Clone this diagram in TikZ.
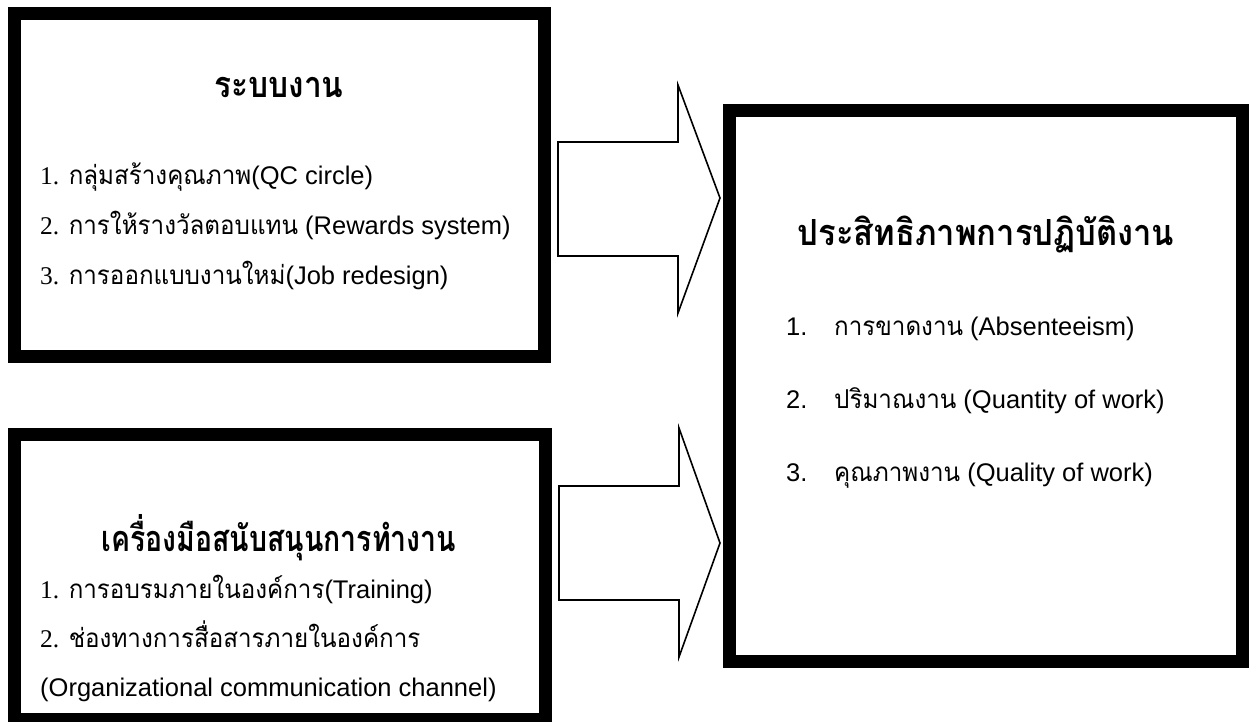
\documentclass[tikz,border=0pt]{standalone}
\usepackage{fontspec}
\setmainfont{Liberation Sans}
\newfontfamily\thai[Script=Thai,FakeStretch=0.93]{Loma}
\newfontfamily\thaiA[Script=Thai,FakeStretch=0.88]{Loma}
\newfontfamily\thaiB[Script=Thai,FakeStretch=0.79]{Loma}
\newfontfamily\thaiC[Script=Thai,FakeStretch=0.91]{Loma}
\newfontfamily\sernum{Liberation Serif}
\newcommand{\itemfont}{\fontsize{25.5}{30}\selectfont}
\newcommand{\thx}[1]{{\thai\fontsize{26}{30}\selectfont #1}}
\begin{document}
\begin{tikzpicture}[x=1pt,y=-1pt,
  box/.style={draw=black,line width=13pt,rectangle,inner sep=0pt,outer sep=0pt},
  blockarrow/.style={draw=black,line width=1.6pt,line join=miter,fill=white},
  title/.style={anchor=base,inner sep=0pt,font=\bfseries\fontsize{36}{40}\selectfont},
  line/.style={anchor=base west,inner sep=0pt,font=\itemfont}]
\useasboundingbox (0,0) rectangle (1252,721);
\clip (0,0) rectangle (1252,721);
% boxes
\node[box,minimum width=530pt,minimum height=343pt] (b1) at (279.5,185) {};
\node[box,minimum width=531pt,minimum height=285pt] (b2) at (280,577) {};
\node[box,minimum width=513pt,minimum height=551pt] (b3) at (986,386) {};
% block arrows
\draw[blockarrow] (558,142) -- (678,142) -- (678,85) -- (720,198) -- (678,313) -- (678,256) -- (558,256) -- cycle;
\draw[blockarrow] (559,486) -- (679,486) -- (679,428) -- (720,543) -- (679,657) -- (679,600) -- (559,600) -- cycle;
% box 1 text
\node[title] (t1) at (279,97) {\thaiA ระบบงาน};
\node[line] (l11) at (40,184) {{\sernum 1.} \thx{กลุ่มสร้างคุณภาพ}(QC circle)};
\node[line] (l12) at (40,234) {{\sernum 2.} \thx{การให้รางวัลตอบแทน} (Rewards system)};
\node[line] (l13) at (40,284) {{\sernum 3.} \thx{การออกแบบงานใหม่}(Job redesign)};
% box 2 text
\node[title] (t2) at (279,551) {\thaiB เครื่องมือสนับสนุนการทำงาน};
\node[line] (l21) at (40,598) {{\sernum 1.} \thx{การอบรมภายในองค์การ}(Training)};
\node[line] (l22) at (40,647) {{\sernum 2.} \thx{ช่องทางการสื่อสารภายในองค์การ}};
\node[line] (l23) at (40,696) {(Organizational communication channel)};
% box 3 text
\node[title] (t3) at (986,245) {\thaiC ประสิทธิภาพการปฏิบัติงาน};
\node[line] (l31) at (786,335) {\makebox[48pt][l]{1.}\thx{การขาดงาน} (Absenteeism)};
\node[line] (l32) at (786,408) {\makebox[48pt][l]{2.}\thx{ปริมาณงาน} (Quantity of work)};
\node[line] (l33) at (786,481) {\makebox[48pt][l]{3.}\thx{คุณภาพงาน} (Quality of work)};
\end{tikzpicture}
\end{document}
